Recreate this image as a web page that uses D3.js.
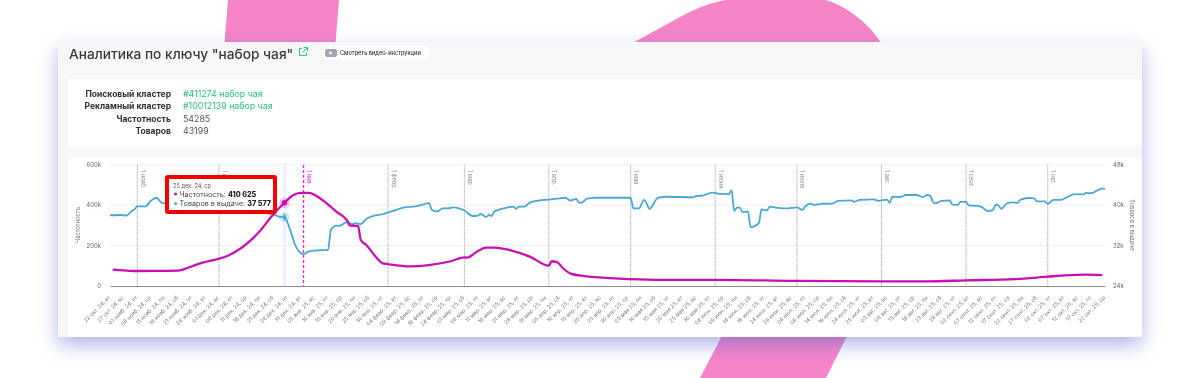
<!DOCTYPE html>
<html lang="ru"><head><meta charset="utf-8">
<script src="https://cdn.jsdelivr.net/npm/d3@7/dist/d3.min.js"></script>
<style>
html,body{margin:0;padding:0;background:#fff;overflow:hidden}
svg{display:block;font-family:Inter,"Noto Sans",sans-serif}
</style></head><body><svg id="c" width="1200" height="378"></svg>
<script>
// ---- data: [day offset from the first date, value] ----
const startDate = new Date(2024, 9, 22);
const endDay = 365;
const freqSeries = [[1,80.6],[5,77],[10,74],[18,74.5],[25,75.7],[27,82],[30,97],[34,115],[40,135],[43,148],[48,186],[52,230],[55,271],[59,339],[64,410.625],[67,446],[70,459],[73,459],[77,433],[83,367],[87,322],[88,298],[91,296],[92,227],[94,202],[98,136],[100,112],[102,108],[110,97],[117,103],[125,122],[130,141],[131,140],[135,173],[138,189],[141,189],[147,176],[154,145],[161,100],[162,122],[164,118],[166,90],[169,61],[174,49],[191,34],[202,30],[222,30],[252,25],[283,23],[300,23],[314,28],[332,34],[344,46],[350,52],[358,56],[364,54]];
const goodsSeries = [[0,37.95],[4,38],[6,37.9],[8,38.8],[9,39.1],[10,39.7],[13,39.7],[15,40.8],[17,41.4],[19,40.4],[25,40.2],[35,39.8],[45,39.5],[55,38.5],[60,38.1],[62,37.7],[64,37.577],[66,35.25],[68,32],[71,30.25],[73,30.85],[76,31.04],[80,31.1],[81,35.05],[83,35.9],[84,35.85],[87,36.6],[89,36.2],[90,36.4],[92,36.2],[94,37.2],[97,37.9],[100,38.15],[102,38.5],[105,39],[108,39.5],[112,39.7],[115,40.1],[117,40.4],[118,39.1],[120,38.7],[122,39.3],[124,39.3],[126,39.5],[128,39.3],[130,38.9],[133,37.8],[135,37.9],[136,38.2],[138,37.6],[139,38],[140,37.8],[141,38.7],[143,39.1],[146,39.5],[148,39.65],[149,39.2],[150,39.65],[152,39.65],[154,40.45],[157,40.85],[161,41.05],[164,41.25],[167,41.4],[169,40.85],[171,41.2],[172,40.45],[173,40.45],[175,41.25],[178,41.4],[191,41.4],[192,39.3],[194,39.3],[196,41],[198,39.2],[199,39.9],[201,41.4],[204,41.6],[214,41.5],[215,41.75],[217,41.8],[221,42.4],[224,42.15],[227,42.1],[228,42.9],[229,38.8],[230,39.45],[231,39.45],[232,38.55],[234,38.7],[235,35.6],[238,36.4],[239,39.1],[241,38.9],[242,39.65],[245,39.4],[248,39.3],[252,39.5],[254,39],[255,39.7],[257,40.25],[258,40],[261,40.2],[265,40.25],[267,40.8],[272,40.9],[273,40.6],[275,41],[280,41.1],[282,40.8],[285,41.05],[286,40.4],[287,41.6],[290,41.55],[292,41.95],[296,41.95],[298,41.55],[300,41.95],[301,41.7],[302,40.45],[303,40.3],[305,40.8],[308,40.9],[309,40.05],[311,40],[312,40.6],[314,40.6],[315,39.9],[318,39.8],[320,39.5],[322,38.75],[323,38.8],[324,39.1],[325,40.05],[326,39.85],[327,39.2],[329,40.3],[331,40.5],[333,40.4],[334,41],[337,41.35],[339,41.3],[340,40.7],[343,40.7],[344,40.2],[346,41],[349,41],[351,41.5],[354,42.1],[357,42.05],[358,42.35],[360,42.3],[362,42.8],[364,43.2],[365,43.15]];
const freqTicks = [0,200,400,600];
const goodsTicks = [24,32,40,48];
const monthNames = ["янв.","февр.","мар.","апр.","мая","июн.","июл.","авг.","сент.","окт.","нояб.","дек."];
const weekdayNames = ["вс","пн","вт","ср","чт","пт","сб"];
const monthMarks = [[new Date(2024,10,1),"1 нояб."],[new Date(2024,11,1),"1 дек."],[new Date(2025,0,1),"1 янв."],[new Date(2025,1,1),"1 февр."],[new Date(2025,2,1),"1 мар."],[new Date(2025,3,1),"1 апр."],[new Date(2025,4,1),"1 мая"],[new Date(2025,5,1),"1 июня"],[new Date(2025,6,1),"1 июля"],[new Date(2025,7,1),"1 авг."],[new Date(2025,8,1),"1 сент."],[new Date(2025,9,1),"1 окт."]];
const hoverDay = 64, hoverFreq = 410.625, hoverGoods = 37.577;
const infoLabels = ["Поисковый кластер","Рекламный кластер","Частотность","Товаров"];
const infoValues = ["#411274 набор чая","#10012139 набор чая","54285","43199"];

const COL_F = "#c90fb2", COL_G = "#4aa7d3", PINK = "#f585c7";
const dayDate = d => d3.timeDay.offset(startDate, d);
const svg = d3.select("#c");

// decorative shapes behind the card
svg.append("path").attr("fill", PINK).attr("d", "M228,0L339,0L335,50L224,50Z");
svg.append("path").attr("fill", PINK).attr("d", "M620,50L680,17C700,6 715,2 726,0L826,0C840,4 870,20 885,50Z");
svg.append("path").attr("fill", PINK).attr("d", "M725,330L850,330L826,378L700,378Z");

// card
svg.append("rect").attr("x",58).attr("y",42).attr("width",1084).attr("height",295).attr("fill","#f7f7f8")
  .style("filter","drop-shadow(0 8px 10px rgba(90,100,205,.48))");
svg.append("rect").attr("x",68).attr("y",79).attr("width",1074).attr("height",68).attr("fill","#fff").attr("rx",2);
svg.append("rect").attr("x",68).attr("y",158).attr("width",1074).attr("height",179).attr("fill","#fff");

const root = svg.append("g").style("filter","blur(.4px)");

// header
root.append("text").attr("x",69).attr("y",58.5).attr("font-size",13.7).attr("font-weight",500).attr("fill","#3a3a3c").text('Аналитика по ключу "набор чая"');
const ext = root.append("g").attr("fill","none").attr("stroke","#2fc48a").attr("stroke-width",1);
ext.append("path").attr("d","M302,48.5h-2.5v7h7v-2.5M303.5,47.5h4v4M307.5,47.5l-4.5,4.5");
root.append("rect").attr("x",322).attr("y",46).attr("width",108).attr("height",13.5).attr("rx",6.7).attr("fill","#fff");
root.append("rect").attr("x",325).attr("y",49).attr("width",12).attr("height",8).attr("rx",2).attr("fill","#a5a5b2");
root.append("path").attr("d","M329.5,51l3,2l-3,2Z").attr("fill","#fff");
root.append("text").attr("x",340).attr("y",55).attr("font-size",5.6).attr("font-weight",500).attr("fill","#333").text("Смотреть видео-инструкции");

// info rows
const rowY = d3.scalePoint().domain(d3.range(infoLabels.length)).range([97,134]);
root.selectAll(".il").data(infoLabels).join("text").attr("x",171).attr("y",(d,i)=>rowY(i)).attr("text-anchor","end")
  .attr("font-size",8.5).attr("font-weight",700).attr("fill","#2f2f33").text(d=>d);
root.selectAll(".iv").data(infoValues).join("text").attr("x",183).attr("y",(d,i)=>rowY(i)).attr("font-size",8.8)
  .attr("fill",(d,i)=>i<2?"#27bd80":"#555").text(d=>d);

// scales
const x = d3.scaleTime().domain([startDate, dayDate(endDay)]).range([110,1105]);
const yF = d3.scaleLinear().domain([0,600]).range([286,164.3]);
const yG = d3.scaleLinear().domain([24,48]).range([286,164.3]);

// grid
root.append("g").selectAll("line").data(freqTicks.slice(1)).join("line")
  .attr("x1",109).attr("x2",1105).attr("y1",d=>yF(d)).attr("y2",d=>yF(d)).attr("stroke","#efeff2").attr("stroke-width",1);

// highlight band
root.append("rect").attr("x",x(dayDate(hoverDay))-1.5).attr("y",165).attr("width",3.5).attr("height",121).attr("fill","#eef1fd");

// month markers
const marks = root.append("g").selectAll("g").data(monthMarks).join("g").attr("transform",d=>`translate(${x(d[0])},0)`);
const isJan = d => d[1] === "1 янв.";
marks.append("line").attr("y1",165).attr("y2",286).attr("stroke",d=>isJan(d)?"#f01fe0":"#b0b0b0")
  .attr("stroke-width",d=>isJan(d)?1.3:1).attr("stroke-dasharray",d=>isJan(d)?"3 2":"1.5 0.8");
marks.append("text").attr("transform","translate(3.5,170) rotate(90)").attr("font-size",5.6)
  .attr("fill",d=>isJan(d)?"#f01fe0":"#8c8c8c").text(d=>d[1]);

// axes
const xAxis = d3.axisBottom(x).tickValues(d3.timeDay.range(startDate, dayDate(endDay+1), 5)).tickSize(0)
  .tickFormat(d => `${d3.timeFormat("%d")(d)} ${monthNames[d.getMonth()]} ${d3.timeFormat("%y")(d)}, ${weekdayNames[d.getDay()]}`);
const gx = root.append("g").attr("transform","translate(0,286)").call(xAxis);
gx.select(".domain").attr("stroke","#8c8c8c").attr("stroke-width",1);
gx.selectAll("text").attr("text-anchor","end").attr("transform","translate(0,12) rotate(-45)").attr("dy",0).attr("y",0)
  .attr("font-size",5.4).attr("font-family","Inter,sans-serif").attr("fill","#777");

const gl = root.append("g").attr("transform","translate(101,0)")
  .call(d3.axisLeft(yF).tickValues(freqTicks).tickSize(0).tickFormat(d=>d?d+"k":"0"));
gl.select(".domain").remove();
gl.selectAll("text").attr("font-size",6).attr("font-family","Inter,sans-serif").attr("fill","#666").attr("x",0);

const gr = root.append("g").attr("transform","translate(1113,0)")
  .call(d3.axisRight(yG).tickValues(goodsTicks).tickSize(0).tickFormat(d=>d+"k"));
gr.select(".domain").remove();
gr.selectAll("text").attr("font-size",6).attr("font-family","Inter,sans-serif").attr("fill","#666").attr("x",0);

root.append("text").attr("transform","translate(80,225) rotate(-90)").attr("text-anchor","middle").attr("font-size",5.8).attr("fill","#777").text("Частотность");
root.append("text").attr("transform","translate(1130,225) rotate(90)").attr("text-anchor","middle").attr("font-size",5.8).attr("fill","#777").text("Товаров в выдаче");

// lines
const line = y => d3.line().x(d=>x(dayDate(d[0]))).y(d=>y(d[1])).curve(d3.curveMonotoneX);
root.append("path").datum(goodsSeries).attr("fill","none").attr("stroke",COL_G).attr("stroke-width",1.8).attr("stroke-linejoin","round").attr("d",line(yG));
root.append("path").datum(freqSeries).attr("fill","none").attr("stroke",COL_F).attr("stroke-width",2.3).attr("stroke-linejoin","round").attr("d",line(yF));

// hover markers
const hx = x(dayDate(hoverDay));
root.append("circle").attr("cx",hx).attr("cy",yG(hoverGoods)).attr("r",5).attr("fill",COL_G).attr("opacity",.28);
root.append("path").attr("transform",`translate(${hx},${yG(hoverGoods)})`).attr("d",d3.symbol(d3.symbolDiamond,14)()).attr("fill",COL_G);
root.append("circle").attr("cx",hx).attr("cy",yF(hoverFreq)).attr("r",5.2).attr("fill",COL_F).attr("opacity",.25);
root.append("circle").attr("cx",hx).attr("cy",yF(hoverFreq)).attr("r",2.7).attr("fill",COL_F);

// tooltip
const tip = root.append("g");
tip.append("rect").attr("x",167).attr("y",177).attr("width",108).attr("height",35).attr("rx",1).attr("fill","#fff").attr("stroke","#f40000").attr("stroke-width",4);
tip.append("text").attr("x",173).attr("y",187.5).attr("font-size",5.6).attr("fill","#555").text("25 дек. 24, ср");
tip.append("circle").attr("cx",175.5).attr("cy",194).attr("r",1.5).attr("fill",COL_F);
tip.append("circle").attr("cx",175.5).attr("cy",203.5).attr("r",1.5).attr("fill",COL_G);
const t1 = tip.append("text").attr("x",179.5).attr("y",196.5).attr("font-size",7.2).attr("fill","#444");
t1.append("tspan").text("Частотность: ");
t1.append("tspan").attr("font-weight",800).attr("fill","#222").text("410 625");
const t2 = tip.append("text").attr("x",179.5).attr("y",206).attr("font-size",7.2).attr("fill","#444");
t2.append("tspan").text("Товаров в выдаче: ");
t2.append("tspan").attr("font-weight",800).attr("fill","#222").text("37 577");
</script></body></html>
